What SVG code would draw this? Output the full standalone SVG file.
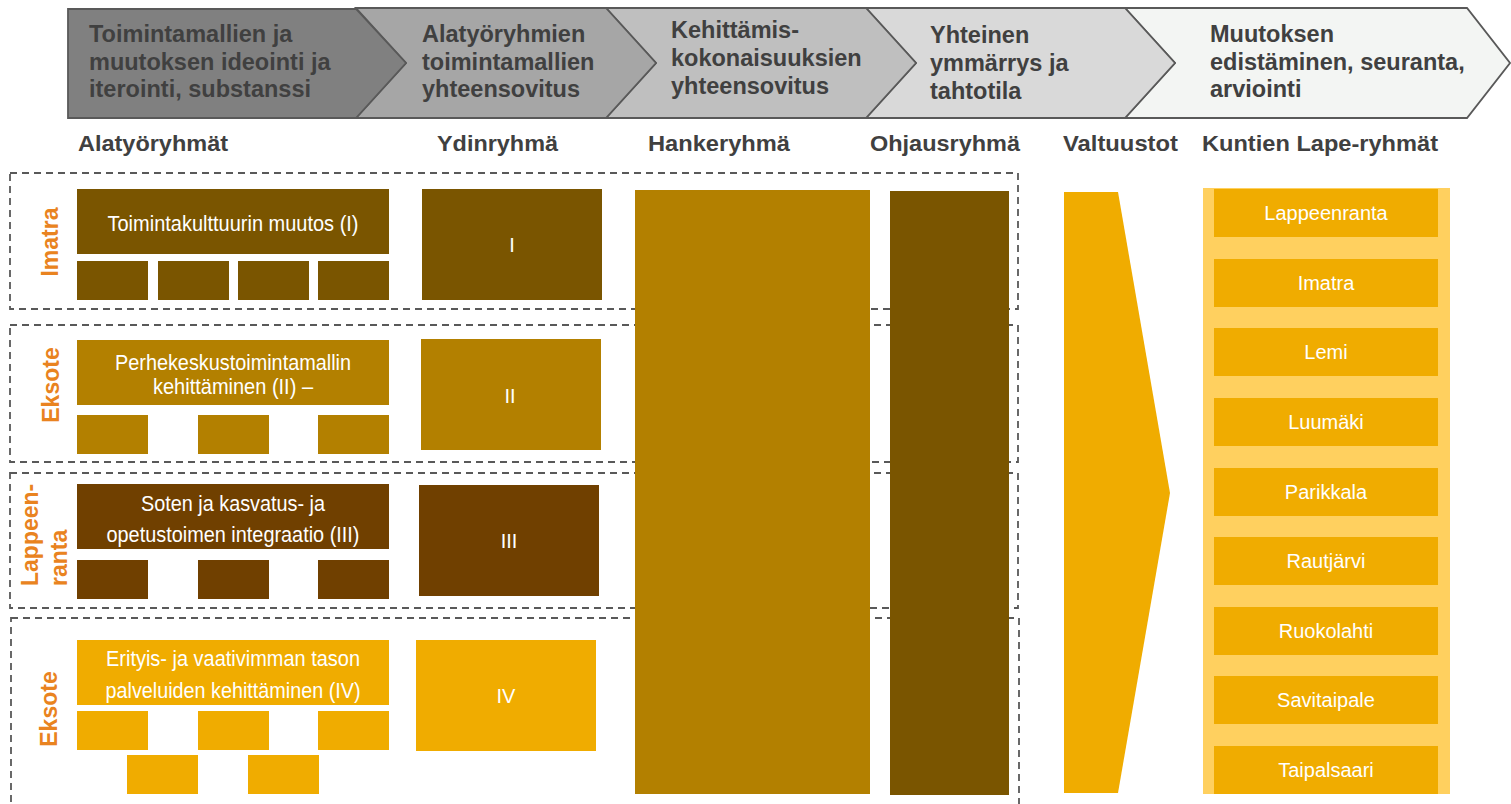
<svg xmlns="http://www.w3.org/2000/svg" width="1511" height="804" viewBox="0 0 1511 804">
<style>
.chev{stroke:#595959;stroke-width:1.8}
.ct{font-family:"Liberation Sans",Arial,sans-serif;font-weight:bold;font-size:23.5px;fill:#404040}
.hd{font-family:"Liberation Sans",Arial,sans-serif;font-weight:bold;font-size:22px;fill:#404040}
.dash{fill:none;stroke:#595959;stroke-width:1.8;stroke-dasharray:7 5}
.grp{font-family:"Liberation Sans",Arial,sans-serif;font-weight:bold;font-size:23px;fill:#e98320}
.wt{font-family:"Liberation Sans",Arial,sans-serif;font-size:22px;fill:#ffffff;text-anchor:middle}
.rn{font-family:"Liberation Sans",Arial,sans-serif;font-size:20px;fill:#ffffff;text-anchor:middle}
.kt{font-family:"Liberation Sans",Arial,sans-serif;font-size:20px;fill:#ffffff;text-anchor:middle}
.c1{fill:#7a5500}
.c2{fill:#b38000}
.c3{fill:#704000}
.c4{fill:#f0ac00}
</style>
<rect width="1511" height="804" fill="#ffffff"/>

<g id="phases">
  <g id="phase5">
    <path class="chev" fill="#f3f5f3" d="M1125,8 L1467,8 L1510,63 L1467,118 L1125,118 L1175,63 Z"/>
    <text class="ct" x="1210" y="42">Muutoksen</text>
    <text class="ct" x="1210" y="70">edistäminen, seuranta,</text>
    <text class="ct" x="1210" y="97">arviointi</text>
  </g>
  <g id="phase4">
    <path class="chev" fill="#d9d9d9" d="M866,8 L1125,8 L1175,63 L1125,118 L866,118 L916,63 Z"/>
    <text class="ct" x="930" y="43">Yhteinen</text>
    <text class="ct" x="930" y="71">ymmärrys ja</text>
    <text class="ct" x="930" y="99">tahtotila</text>
  </g>
  <g id="phase3">
    <path class="chev" fill="#bfbfbf" d="M606,8 L866,8 L916,63 L866,118 L606,118 L656,63 Z"/>
    <text class="ct" x="671" y="38">Kehittämis-</text>
    <text class="ct" x="671" y="66">kokonaisuuksien</text>
    <text class="ct" x="671" y="94">yhteensovitus</text>
  </g>
  <g id="phase2">
    <path class="chev" fill="#a6a6a6" d="M356,8 L606,8 L656,63 L606,118 L356,118 L406,63 Z"/>
    <text class="ct" x="422" y="42">Alatyöryhmien</text>
    <text class="ct" x="422" y="70">toimintamallien</text>
    <text class="ct" x="422" y="97">yhteensovitus</text>
  </g>
  <g id="phase1">
    <path class="chev" fill="#808080" d="M68,9 L356,9 L406,63 L356,118 L68,118 Z"/>
    <text class="ct" x="89" y="42">Toimintamallien ja</text>
    <text class="ct" x="89" y="70">muutoksen ideointi ja</text>
    <text class="ct" x="89" y="97">iterointi, substanssi</text>
  </g>
</g>

<g id="headers">
  <text class="hd" x="78" y="151" textLength="150" lengthAdjust="spacingAndGlyphs">Alatyöryhmät</text>
  <text class="hd" x="437" y="151" textLength="121" lengthAdjust="spacingAndGlyphs">Ydinryhmä</text>
  <text class="hd" x="648" y="151" textLength="142" lengthAdjust="spacingAndGlyphs">Hankeryhmä</text>
  <text class="hd" x="870" y="151" textLength="150" lengthAdjust="spacingAndGlyphs">Ohjausryhmä</text>
  <text class="hd" x="1063" y="151" textLength="115" lengthAdjust="spacingAndGlyphs">Valtuustot</text>
  <text class="hd" x="1202" y="151" textLength="236" lengthAdjust="spacingAndGlyphs">Kuntien Lape-ryhmät</text>
</g>

<g id="connectors">
  <rect class="dash" x="10" y="173" width="1008" height="136"/>
  <rect class="dash" x="10" y="325" width="1008" height="137"/>
  <rect class="dash" x="10" y="473" width="1008" height="135"/>
  <rect class="dash" x="11" y="618" width="1008" height="200"/>
</g>

<g id="group-imatra">
  <text class="grp" transform="translate(58,242) rotate(-90)" text-anchor="middle">Imatra</text>
  <rect class="c1" x="77" y="189" width="312" height="65"/>
  <text class="wt" x="233" y="231" textLength="251" lengthAdjust="spacingAndGlyphs">Toimintakulttuurin muutos (I)</text>
  <rect class="c1" x="77" y="261" width="71" height="39"/>
  <rect class="c1" x="158" y="261" width="71" height="39"/>
  <rect class="c1" x="238" y="261" width="71" height="39"/>
  <rect class="c1" x="318" y="261" width="71" height="39"/>
</g>
<g id="core-I">
  <rect class="c1" x="422" y="189" width="180" height="111"/>
  <text class="rn" x="512" y="252">I</text>
</g>

<g id="group-eksote-ii">
  <text class="grp" transform="translate(59,385) rotate(-90)" text-anchor="middle">Eksote</text>
  <rect class="c2" x="77" y="340" width="312" height="65"/>
  <text class="wt" x="233" y="370" textLength="236" lengthAdjust="spacingAndGlyphs">Perhekeskustoimintamallin</text>
  <text class="wt" x="233" y="394" textLength="160" lengthAdjust="spacingAndGlyphs">kehittäminen (II) –</text>
  <rect class="c2" x="77" y="415" width="71" height="39"/>
  <rect class="c2" x="198" y="415" width="71" height="39"/>
  <rect class="c2" x="318" y="415" width="71" height="39"/>
</g>
<g id="core-II">
  <rect class="c2" x="421" y="339" width="180" height="111"/>
  <text class="rn" x="510" y="403">II</text>
</g>

<g id="group-lappeenranta">
  <text class="grp" transform="translate(38,586) rotate(-90)">Lappeen-</text>
  <text class="grp" transform="translate(67,586) rotate(-90)">ranta</text>
  <rect class="c3" x="77" y="484" width="312" height="65"/>
  <text class="wt" x="233" y="511" textLength="184" lengthAdjust="spacingAndGlyphs">Soten ja kasvatus- ja</text>
  <text class="wt" x="233" y="542" textLength="253" lengthAdjust="spacingAndGlyphs">opetustoimen integraatio (III)</text>
  <rect class="c3" x="77" y="560" width="71" height="39"/>
  <rect class="c3" x="198" y="560" width="71" height="39"/>
  <rect class="c3" x="318" y="560" width="71" height="39"/>
</g>
<g id="core-III">
  <rect class="c3" x="419" y="485" width="180" height="111"/>
  <text class="rn" x="509" y="548">III</text>
</g>

<g id="group-eksote-iv">
  <text class="grp" transform="translate(57,709) rotate(-90)" text-anchor="middle">Eksote</text>
  <rect class="c4" x="77" y="640" width="312" height="65"/>
  <text class="wt" x="233" y="666" textLength="254" lengthAdjust="spacingAndGlyphs">Erityis- ja vaativimman tason</text>
  <text class="wt" x="233" y="698" textLength="255" lengthAdjust="spacingAndGlyphs">palveluiden kehittäminen (IV)</text>
  <rect class="c4" x="77" y="711" width="71" height="39"/>
  <rect class="c4" x="198" y="711" width="71" height="39"/>
  <rect class="c4" x="318" y="711" width="71" height="39"/>
  <rect class="c4" x="127" y="755" width="71" height="39"/>
  <rect class="c4" x="248" y="755" width="71" height="39"/>
</g>
<g id="core-IV">
  <rect class="c4" x="416" y="640" width="180" height="111"/>
  <text class="rn" x="506" y="703">IV</text>
</g>

<g id="hankeryhma">
  <rect class="c2" x="635" y="190" width="235" height="604"/>
</g>
<g id="ohjausryhma">
  <rect class="c1" x="890" y="191" width="119" height="604"/>
</g>
<g id="valtuustot">
  <polygon class="c4" points="1064,192 1118,192 1170,493 1118,793 1064,793"/>
</g>
<g id="kuntien-lape">
  <rect x="1203" y="188" width="247" height="606" fill="#ffd05f"/>
  <rect class="c4" x="1214" y="189" width="224" height="48"/>
  <text class="kt" x="1326" y="220">Lappeenranta</text>
  <rect class="c4" x="1214" y="259" width="224" height="48"/>
  <text class="kt" x="1326" y="290">Imatra</text>
  <rect class="c4" x="1214" y="328" width="224" height="48"/>
  <text class="kt" x="1326" y="359">Lemi</text>
  <rect class="c4" x="1214" y="398" width="224" height="48"/>
  <text class="kt" x="1326" y="429">Luumäki</text>
  <rect class="c4" x="1214" y="468" width="224" height="48"/>
  <text class="kt" x="1326" y="499">Parikkala</text>
  <rect class="c4" x="1214" y="537" width="224" height="48"/>
  <text class="kt" x="1326" y="568">Rautjärvi</text>
  <rect class="c4" x="1214" y="607" width="224" height="48"/>
  <text class="kt" x="1326" y="638">Ruokolahti</text>
  <rect class="c4" x="1214" y="676" width="224" height="48"/>
  <text class="kt" x="1326" y="707">Savitaipale</text>
  <rect class="c4" x="1214" y="746" width="224" height="48"/>
  <text class="kt" x="1326" y="777">Taipalsaari</text>
</g>
</svg>
